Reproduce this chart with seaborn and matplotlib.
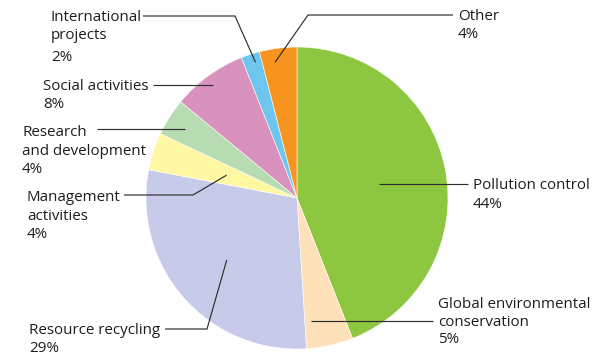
import matplotlib
matplotlib.use("Agg")
import matplotlib.pyplot as plt
import seaborn as sns
import numpy as np

# ---- data ----
categories = ["Pollution control", "Global environmental\nconservation", "Resource recycling",
              "Management\nactivities", "Research\nand development", "Social activities",
              "International\nprojects", "Other"]
values = [44, 5, 29, 4, 4, 8, 2, 4]
pct_labels = ["44%", "5%", "29%", "4%", "4%", "8%", "2%", "4%"]
colors = ["#8DC63F", "#FEE1B9", "#C7CBE9", "#FFF7A1", "#B8DCB1", "#D991BE", "#6EC5EE", "#F7941E"]

sns.set_style("white")
plt.rcParams['font.family'] = ['Open Sans', 'DejaVu Sans']

W, H = 599, 355
fig = plt.figure(figsize=(W / 100, H / 100), dpi=100)
ax = fig.add_axes([0, 0, 1, 1])

def P(x, y):
    return x, H - y

cx, cy = P(297, 198)
R = 151
wedges, _ = ax.pie(values, colors=colors, startangle=90, counterclock=False,
                   center=(cx, cy), radius=R, frame=True,
                   wedgeprops=dict(edgecolor="white", linewidth=0.4))
ax.set_xlim(0, W)
ax.set_ylim(0, H)
ax.set_aspect("equal")
ax.axis("off")

txt = "#1e1c1d"
lc = "#2e2e2e"
fs = 10.9

# layout per slice: anchor radius fraction, angle nudge (deg), elbow (px) or None, line end (px),
# text x (px), baselines of lines (px)
layout = [
    dict(fr=0.55, da=-1.0, elbow=None, end=(468, 184), tx=473, bl=[189, 208]),
    dict(fr=0.81, da=-6.0, elbow=None, end=(433, 321), tx=438, bl=[308, 326, 343]),
    dict(fr=0.62, da=0.0, elbow=(207, 329), end=(165, 329), tx=29, bl=[334, 352]),
    dict(fr=0.49, da=0.0, elbow=(193, 195), end=(124, 195), tx=27, bl=[201, 220, 238]),
    dict(fr=0.87, da=0.5, elbow=None, end=(97, 129), tx=22, bl=[136, 155, 173]),
    dict(fr=0.93, da=0.5, elbow=None, end=(153, 85), tx=43, bl=[90, 108]),
    dict(fr=0.94, da=-1.0, elbow=(235, 16), end=(143, 16), tx=51, bl=[21, 39, 61]),
    dict(fr=0.91, da=2.0, elbow=(308, 15), end=(453, 15), tx=458, bl=[20, 38]),
]

for w, cat, pct, L in zip(wedges, categories, pct_labels, layout):
    mid = np.deg2rad((w.theta1 + w.theta2) / 2 + L["da"])
    ax_, ay_ = cx + L["fr"] * R * np.cos(mid), cy + L["fr"] * R * np.sin(mid)
    pts = [(ax_, ay_)]
    if L["elbow"] is not None:
        pts.append(P(*L["elbow"]))
        ex, ey = P(*L["end"])
    else:
        ex, ey = P(*L["end"])
        pts[0] = (ax_, ey)
    pts.append((ex, ey))
    xs, ys = zip(*pts)
    ax.plot(xs, ys, color=lc, lw=0.85, solid_capstyle="butt")
    lines = cat.split("\n") + [pct]
    for s, b in zip(lines, L["bl"]):
        ax.text(*P(L["tx"], b), s, ha="left", va="baseline", fontsize=fs, color=txt)

fig.savefig("out.png", dpi=100)
